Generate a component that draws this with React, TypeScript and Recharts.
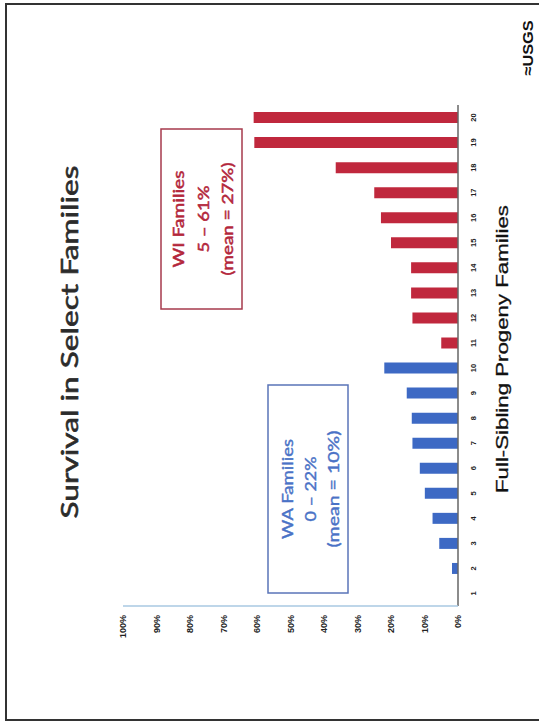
import React from 'react';
import { BarChart, Bar, XAxis, YAxis, Cell } from 'recharts';

// slide is scanned sideways, so the chart is drawn upright and turned -90deg
const families = ['1', '2', '3', '4', '5', '6', '7', '8', '9', '10', '11', '12', '13', '14', '15', '16', '17', '18', '19', '20'];
const groups = ['WA', 'WA', 'WA', 'WA', 'WA', 'WA', 'WA', 'WA', 'WA', 'WA', 'WI', 'WI', 'WI', 'WI', 'WI', 'WI', 'WI', 'WI', 'WI', 'WI'];
const survivalPct = [0, 1.8, 5.6, 7.6, 9.9, 11.4, 13.6, 13.8, 15.3, 22, 5, 13.6, 14, 14, 20, 23, 25, 36.5, 60.8, 61];
const valueTicks = [0, 10, 20, 30, 40, 50, 60, 70, 80, 90, 100];

const groupColors: Record<string, string> = { WA: '#3d69c4', WI: '#c0283d' };

const data = families.map((f, i) => ({ family: f, survival: survivalPct[i], group: groups[i] }));

const W = 723;
const H = 539;

export default function App() {
  return (
    <div style={{ position: 'absolute', left: 0, top: 0, width: H, height: W, overflow: 'hidden', background: '#fff' }}>
      <div
        style={{
          position: 'absolute',
          left: 0,
          top: 0,
          width: W,
          height: H,
          transformOrigin: '0 0',
          transform: `translate(0px, ${W}px) rotate(-90deg)`,
        }}
      >
        <BarChart width={W} height={H} data={data} margin={{ top: 123, right: 105, bottom: 51, left: 77 }} barSize={11}>
          <XAxis
            dataKey="family"
            interval={0}
            height={30}
            tickLine={false}
            tickSize={6}
            tickMargin={7}
            axisLine={{ stroke: '#666', strokeWidth: 1.5 }}
            tick={{ fontSize: 7.5, fontWeight: 'bold', fill: '#222', fontFamily: 'Liberation Sans, Arial, sans-serif' }}
          />
          <YAxis
            type="number"
            domain={[0, 100]}
            ticks={valueTicks}
            width={40}
            tickLine={false}
            tickMargin={3}
            tickFormatter={(v: number) => `${v}%`}
            axisLine={{ stroke: '#a9c8e2', strokeWidth: 1.5 }}
            tick={{ fontSize: 9, fontWeight: 'bold', fill: '#222', fontFamily: 'Liberation Sans, Arial, sans-serif' }}
          />
          <Bar dataKey="survival" isAnimationActive={false}>
            {data.map((d, i) => (
              <Cell key={`c-${i}`} fill={groupColors[d.group]} />
            ))}
          </Bar>
        </BarChart>

        <svg width={W} height={H} style={{ position: 'absolute', left: 0, top: 0, pointerEvents: 'none' }}>
          {/* slide frame */}
          <line x1={3} y1={6} x2={719} y2={6} stroke="#333" strokeWidth={2} />
          <line x1={719} y1={5} x2={719} y2={H} stroke="#333" strokeWidth={2} />
          <line x1={3} y1={5} x2={3} y2={H} stroke="#333" strokeWidth={2} />

          <text x={381} y={78} textAnchor="middle" fontSize={24} fill="#2b2b2b" stroke="#2b2b2b" strokeWidth={0.6} fontFamily="Lato, sans-serif" textLength={353} lengthAdjust="spacingAndGlyphs">
            Survival in Select Families
          </text>

          <text x={374} y={508} textAnchor="middle" fontSize={17} fill="#111" stroke="#111" strokeWidth={0.3} fontFamily="Liberation Sans, Arial, sans-serif" textLength={288} lengthAdjust="spacingAndGlyphs">
            Full-Sibling Progeny Families
          </text>

          {/* WI box */}
          <rect x={414} y={161} width={180} height={81} fill="none" stroke="#a63a4c" strokeWidth={1.5} />
          <g fill="#b3263b" stroke="#b3263b" strokeWidth={0.5} fontFamily="Lato, sans-serif" fontSize={16} textAnchor="middle">
            <text x={504} y={183.5} textLength={97} lengthAdjust="spacingAndGlyphs">WI Families</text>
            <text x={504} y={209} textLength={67} lengthAdjust="spacingAndGlyphs">5 – 61%</text>
            <text x={504} y={233} textLength={113} lengthAdjust="spacingAndGlyphs">(mean = 27%)</text>
          </g>

          {/* WA box */}
          <rect x={130} y={268} width={208} height={80} fill="none" stroke="#5a74b8" strokeWidth={1.5} />
          <g fill="#4a72c6" stroke="#4a72c6" strokeWidth={0.4} fontFamily="Lato, sans-serif" fontSize={16} textAnchor="middle">
            <text x={234} y={293} textLength={100} lengthAdjust="spacingAndGlyphs">WA Families</text>
            <text x={234} y={316} textLength={65} lengthAdjust="spacingAndGlyphs">0 – 22%</text>
            <text x={234} y={339} textLength={117} lengthAdjust="spacingAndGlyphs">(mean = 10%)</text>
          </g>

          <text x={675} y={533} textAnchor="middle" fontSize={15} fontWeight="bold" fill="#111" fontFamily="Liberation Sans, Arial, sans-serif" textLength={55} lengthAdjust="spacingAndGlyphs">
            ≈USGS
          </text>
        </svg>
      </div>
    </div>
  );
}
